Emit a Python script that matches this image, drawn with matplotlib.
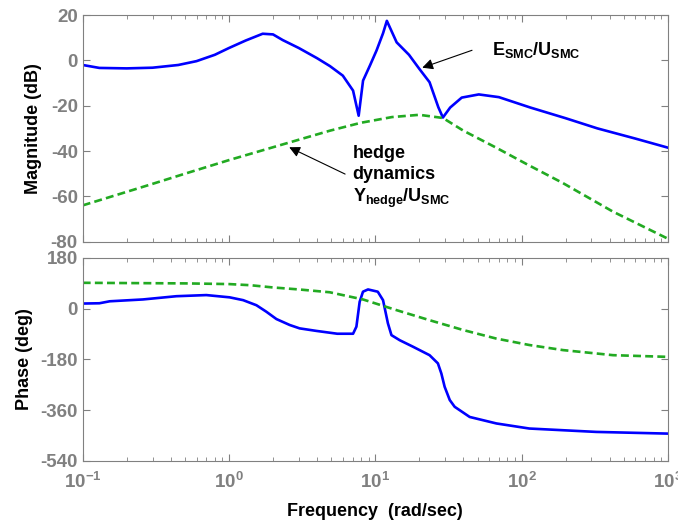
import numpy as np
import matplotlib
matplotlib.use("Agg")
import matplotlib.pyplot as plt

plt.rcParams['font.family'] = ['Liberation Sans', 'DejaVu Sans']
plt.rcParams['font.weight'] = 'bold'
plt.rcParams['mathtext.fontset'] = 'custom'
plt.rcParams['mathtext.rm'] = 'Liberation Sans:bold'
plt.rcParams['mathtext.bf'] = 'Liberation Sans:bold'
plt.rcParams['mathtext.default'] = 'bf'
plt.rcParams['axes.unicode_minus'] = False

# magnitude, E_SMC/U_SMC (blue)
w_mag_e = [0.1, 0.13, 0.2, 0.3, 0.45, 0.6, 0.8, 1.0, 1.3, 1.7, 2.0, 2.33, 3.0,
           4.0, 4.9, 6.0, 7.05, 7.7, 8.25, 9.2, 10.2, 11.3, 12.0, 14.0, 17.0,
           20.0, 23.5, 27.0, 29.0, 32.5, 39.0, 51.0, 70.0, 115.0, 200.0, 330.0,
           600.0, 1000.0]
mag_e = [-2, -3.3, -3.5, -3.2, -2, -0.3, 2.5, 5.5, 8.8, 11.8, 11.5, 9, 5.5,
         1, -2.5, -6.7, -13.3, -24.4, -8.9, -2.2, 4.4, 12, 17.5, 8, 2.5,
         -3.7, -9.6, -20.7, -25.2, -20.8, -16.4, -15, -16.2, -20.8, -25.5, -30,
         -34.5, -38.5]

# magnitude, Y_hedge/U_SMC (green dashed)
w_mag_h = [0.1, 0.3, 0.5, 1.0, 2.35, 4.9, 8.0, 13.0, 20.0, 29.0, 40.0, 67.0,
           110.0, 190.0, 420.0, 1000.0]
mag_h = [-64, -54.5, -50, -44, -37, -31, -27.5, -25, -24, -25.4, -31, -38.5,
         -46, -54, -66.7, -78.7]

# phase, E_SMC/U_SMC
w_ph_e = [0.1, 0.13, 0.153, 0.258, 0.437, 0.70, 1.01, 1.25, 1.54, 1.80, 2.11,
          2.60, 3.04, 3.96, 5.5, 7.05, 7.43, 7.82, 8.24, 8.92, 10.4, 11.3, 12.2,
          12.9, 14.7, 18.1, 23.5, 26.8, 28.3, 29.8, 32.3, 34.9, 44.2, 67.3,
          113.0, 324.0, 1000.0]
ph_e = [18, 19, 26, 32.5, 44, 48, 40, 30, 12, -11, -37, -58, -70, -79, -89,
        -89, -64, 24, 60, 68, 60, 30, -52, -94, -112, -135, -165, -194, -230,
        -277, -324, -348, -384, -407, -425, -437, -443]

# phase, Y_hedge/U_SMC
w_ph_h = [0.1, 0.51, 1.0, 1.4, 2.0, 3.0, 4.88, 8.24, 13.9, 23.5, 40.0, 67.0,
          113.0, 192.0, 422.0, 1000.0]
ph_h = [91.5, 89.4, 87, 83, 75, 68, 58, 32.5, -5, -41, -76, -106, -129, -147,
        -165, -171]

mag_ticks = [20, 0, -20, -40, -60, -80]
ph_ticks = [180, 0, -180, -360, -540]
x_ticks = [0.1, 1, 10, 100, 1000]
x_labels = [r'$10^{-1}$', r'$10^{0}$', r'$10^{1}$', r'$10^{2}$', r'$10^{3}$']

blue = '#0000ff'
green = '#22aa22'
grey = '#808080'

fig = plt.figure(figsize=(6.78, 5.23), dpi=100)
ax1 = fig.add_axes([0.122, 0.538, 0.863, 0.433])
ax2 = fig.add_axes([0.122, 0.1186, 0.863, 0.3884])

for ax in (ax1, ax2):
    ax.set_xscale('log')
    ax.set_xlim(0.1, 1000)
    ax.set_xticks(x_ticks)
    for s in ax.spines.values():
        s.set_color(grey)
    ax.tick_params(which='both', direction='in', top=True, right=True,
                   colors=grey, labelsize=13.5, labelcolor=grey)
    ax.tick_params(which='major', length=5)
    ax.tick_params(which='minor', length=3)

ax1.plot(w_mag_e, mag_e, color=blue, lw=1.9)
ax1.plot(w_mag_h, mag_h, color=green, lw=1.9, ls=(0, (3, 1.6)))
ax1.set_ylim(-80, 20)
ax1.set_yticks(mag_ticks)
ax1.set_xticklabels([])
ax1.set_ylabel('Magnitude (dB)', fontsize=13, fontweight='bold', labelpad=6)

ax2.plot(w_ph_e, ph_e, color=blue, lw=1.9)
ax2.plot(w_ph_h, ph_h, color=green, lw=1.9, ls=(0, (3, 1.6)))
ax2.set_ylim(-540, 180)
ax2.set_yticks(ph_ticks)
ax2.set_xticklabels(x_labels)
ax2.tick_params(axis='x', pad=8)
ax2.set_ylabel('Phase (deg)', fontsize=13, fontweight='bold', labelpad=5)
ax2.set_xlabel('Frequency  (rad/sec)', fontsize=13, fontweight='bold',
               labelpad=8)

arrow = dict(arrowstyle='-|>', color='k', lw=0.8, mutation_scale=16)
ax1.annotate('', xy=(20.1, -3.6), xytext=(47.8, 4.9), arrowprops=arrow)
ax1.text(62.5, 4.4, r'$\mathbf{E_{SMC}/U_{SMC}}$', fontsize=13,
         va='center', ha='left')
ax1.annotate('', xy=(2.48, -37.8), xytext=(6.47, -50.7), arrowprops=arrow)
ax1.text(7.0, -40.9, 'hedge', fontsize=13, va='center', ha='left',
         fontweight='bold')
ax1.text(7.0, -50.2, 'dynamics', fontsize=13, va='center', ha='left',
         fontweight='bold')
ax1.text(7.0, -60.9, r'$\mathbf{Y_{hedge}/U_{SMC}}$', fontsize=13,
         va='center', ha='left')

fig.savefig('out.png', dpi=100, facecolor='white')
